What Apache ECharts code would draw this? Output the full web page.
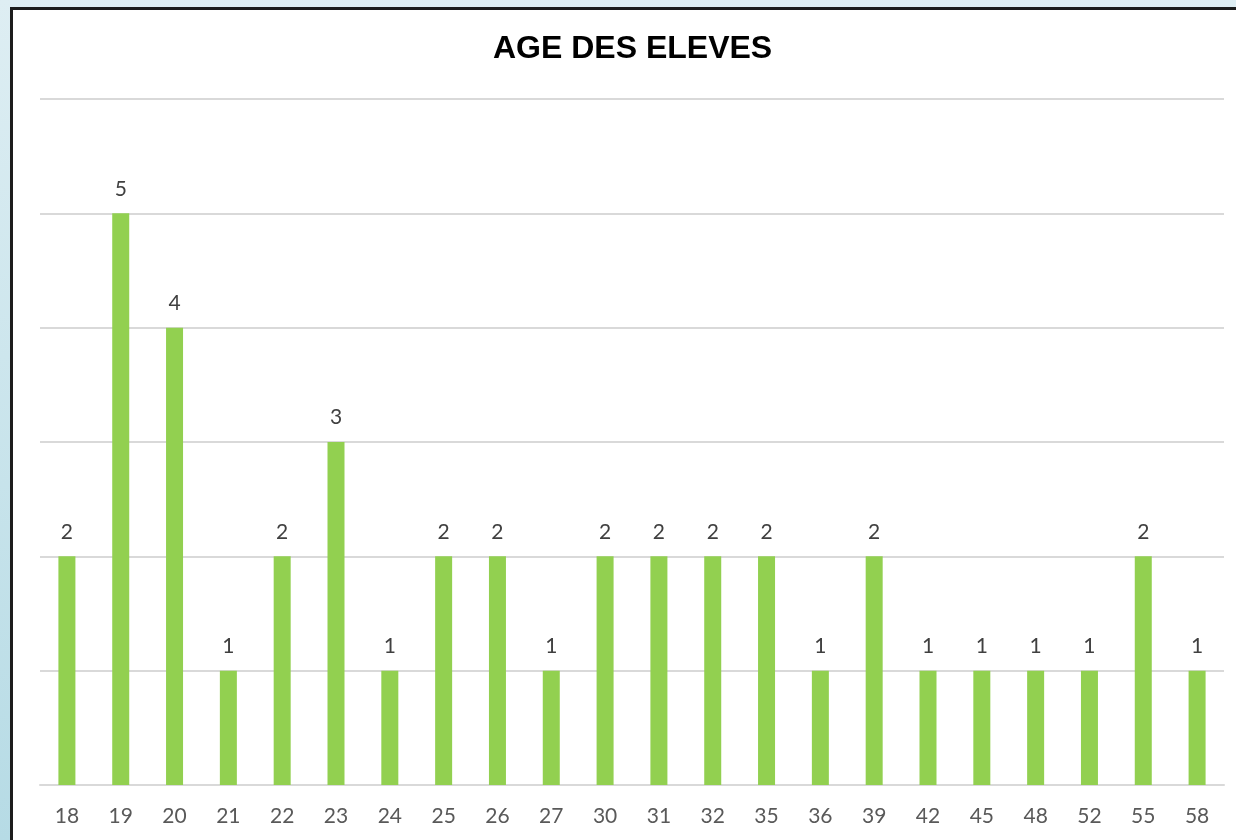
<!DOCTYPE html>
<html>
<head>
<meta charset="utf-8">
<script src="https://cdn.jsdelivr.net/npm/echarts@6/dist/echarts.min.js"></script>
<style>
  html, body { margin: 0; padding: 0; width: 1236px; height: 840px; overflow: hidden; }
  body { background: linear-gradient(to bottom, #deeef3, #b6dbe5); position: relative; }
  #frame { position: absolute; left: 10px; top: 7px; width: 1260px; height: 860px;
           background: #fff; border-top: 3px solid #1c1c1c; border-left: 3px solid #1c1c1c; }
  #main { position: absolute; left: 0; top: 0; width: 1236px; height: 840px; }
</style>
</head>
<body>
<div id="frame"></div>
<div id="main"></div>
<script>
// âges des élèves et effectifs
const ages = ['18', '19', '20', '21', '22', '23', '24', '25', '26', '27', '30',
              '31', '32', '35', '36', '39', '42', '45', '48', '52', '55', '58'];
const effectifs = [2, 5, 4, 1, 2, 3, 1, 2, 2, 1, 2, 2, 2, 2, 1, 2, 1, 1, 1, 1, 2, 1];

const chart = echarts.init(document.getElementById('main'));

const option = {
    backgroundColor: 'transparent',
    animation: false,
    title: {
        text: 'AGE DES ELEVES',
        left: 488,
        top: 28,
        textStyle: {
            fontFamily: 'Liberation Sans, Arial, sans-serif',
            fontWeight: 'bold',
            fontSize: 32,
            color: '#000'
        }
    },
    grid: { left: 40, right: 12, top: 99, bottom: 55 },
    xAxis: {
        type: 'category',
        data: ages,
        axisLine: { lineStyle: { color: '#d9d9d9', width: 2 } },
        axisTick: { show: false },
        axisLabel: {
            margin: 21,
            fontSize: 21,
            color: '#595959',
            fontFamily: 'Lato, sans-serif'
        }
    },
    yAxis: {
        type: 'value',
        min: 0,
        max: 6,
        interval: 1,
        axisLabel: { show: false },
        axisLine: { show: false },
        axisTick: { show: false },
        splitLine: { lineStyle: { color: '#d9d9d9', width: 2 } }
    },
    series: [{
        type: 'bar',
        data: effectifs,
        barWidth: 17,
        itemStyle: { color: '#92d050' },
        label: {
            show: true,
            position: 'top',
            distance: 14,
            fontSize: 21,
            color: '#404040',
            fontFamily: 'Lato, sans-serif'
        }
    }]
};

chart.setOption(option);
</script>
</body>
</html>
